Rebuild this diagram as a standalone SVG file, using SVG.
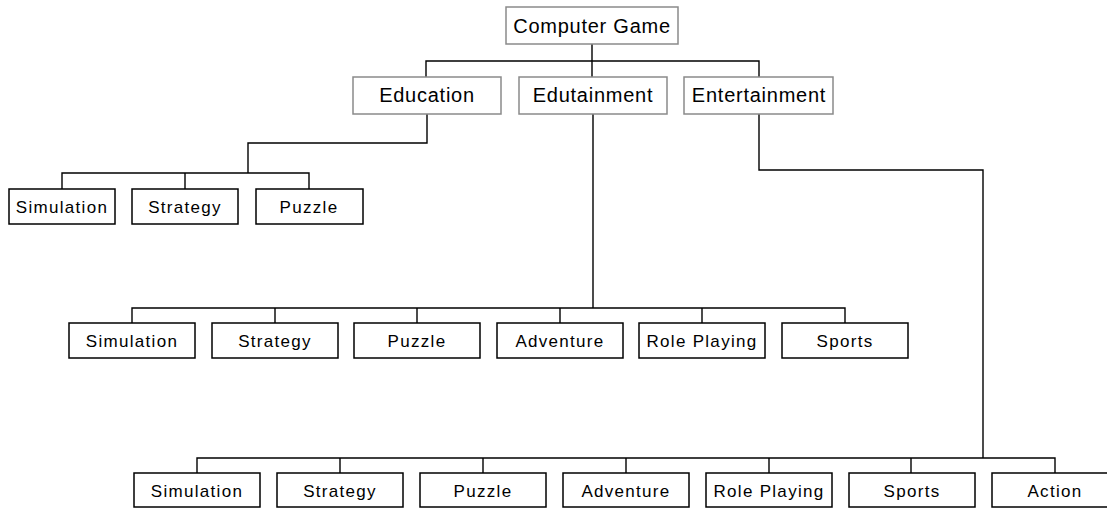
<svg xmlns="http://www.w3.org/2000/svg" width="1107" height="508" viewBox="0 0 1107 508">
<style>
.bg{fill:#ffffff}
.gbox{fill:#ffffff;stroke:#8a8a8a;stroke-width:1.5}
.box{fill:#ffffff;stroke:#000000;stroke-width:1.5}
.t1{font-family:"Liberation Sans",Arial,sans-serif;font-size:20px;letter-spacing:0.75px;fill:#000000;text-anchor:middle}
.t2{font-family:"Liberation Sans",Arial,sans-serif;font-size:17px;letter-spacing:1.3px;fill:#000000;text-anchor:middle}
.conn{fill:none;stroke:#000000;stroke-width:1.4}
</style>
<rect class="bg" x="0" y="0" width="1107" height="508"/>
<g id="connectors">
<path class="conn" d="M592,44 V61 M426,77 V61 H759 V77 M592,61 V77"/>
<path class="conn" d="M427,114 V143 H248 V173 M62,189 V173 H309 V189 M185,173 V189"/>
<path class="conn" d="M593,114 V308 M132,323 V308 H845 V323 M275,308 V323 M417,308 V323 M560,308 V323 M702,308 V323"/>
<path class="conn" d="M759,114 V170 H983 V458 M197,473 V458 H1055 V473 M340,458 V473 M483,458 V473 M626,458 V473 M769,458 V473 M911,458 V473"/>
</g>
<g id="computer-game"><rect class="gbox" x="506" y="7" width="172" height="37"/><text class="t1" x="592" y="33">Computer Game</text></g>
<g id="education"><rect class="gbox" x="353" y="77" width="148" height="37"/><text class="t1" x="427" y="102">Education</text></g>
<g id="edutainment"><rect class="gbox" x="519" y="77" width="148" height="37"/><text class="t1" x="593" y="102">Edutainment</text></g>
<g id="entertainment"><rect class="gbox" x="684" y="77" width="149" height="37"/><text class="t1" x="759" y="102">Entertainment</text></g>

<g id="edu-simulation"><rect class="box" x="9" y="189" width="106" height="35"/><text class="t2" x="62" y="213">Simulation</text></g>
<g id="edu-strategy"><rect class="box" x="132" y="189" width="106" height="35"/><text class="t2" x="185" y="213">Strategy</text></g>
<g id="edu-puzzle"><rect class="box" x="256" y="189" width="107" height="35"/><text class="t2" x="309" y="213">Puzzle</text></g>

<g id="edut-simulation"><rect class="box" x="69" y="323" width="126" height="35"/><text class="t2" x="132" y="347">Simulation</text></g>
<g id="edut-strategy"><rect class="box" x="212" y="323" width="126" height="35"/><text class="t2" x="275" y="347">Strategy</text></g>
<g id="edut-puzzle"><rect class="box" x="354" y="323" width="126" height="35"/><text class="t2" x="417" y="347">Puzzle</text></g>
<g id="edut-adventure"><rect class="box" x="497" y="323" width="126" height="35"/><text class="t2" x="560" y="347">Adventure</text></g>
<g id="edut-roleplaying"><rect class="box" x="639" y="323" width="126" height="35"/><text class="t2" x="702" y="347">Role Playing</text></g>
<g id="edut-sports"><rect class="box" x="782" y="323" width="126" height="35"/><text class="t2" x="845" y="347">Sports</text></g>

<g id="ent-simulation"><rect class="box" x="134" y="473" width="126" height="34"/><text class="t2" x="197" y="497">Simulation</text></g>
<g id="ent-strategy"><rect class="box" x="277" y="473" width="126" height="34"/><text class="t2" x="340" y="497">Strategy</text></g>
<g id="ent-puzzle"><rect class="box" x="420" y="473" width="126" height="34"/><text class="t2" x="483" y="497">Puzzle</text></g>
<g id="ent-adventure"><rect class="box" x="563" y="473" width="126" height="34"/><text class="t2" x="626" y="497">Adventure</text></g>
<g id="ent-roleplaying"><rect class="box" x="706" y="473" width="126" height="34"/><text class="t2" x="769" y="497">Role Playing</text></g>
<g id="ent-sports"><rect class="box" x="849" y="473" width="126" height="34"/><text class="t2" x="912" y="497">Sports</text></g>
<g id="ent-action"><rect class="box" x="992" y="473" width="126" height="34"/><text class="t2" x="1055" y="497">Action</text></g>
</svg>
